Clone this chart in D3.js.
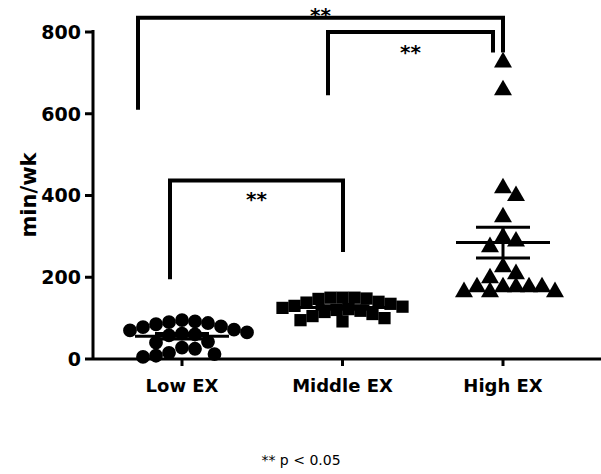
<!DOCTYPE html>
<html><head><meta charset="utf-8">
<script src="https://cdn.jsdelivr.net/npm/d3@7"></script>
<style>body{margin:0;background:#fff}text{font-family:"DejaVu Sans",Verdana,sans-serif;font-weight:bold}</style>
</head><body><svg id="chart" width="601" height="474"></svg>
<script>
var groups = ["Low EX", "Middle EX", "High EX"];
var lowEx = [92, 88, 80, 72, 65, 60, 58, 62, 70, 78, 85, 90, 95, 40, 25, 12, 5, 8, 15, 28, 42];
var middleEx = [150, 148, 150, 147, 150, 140, 138, 135, 130, 128, 125, 122, 120, 118, 115, 110, 105, 100, 95, 92];
var highEx = [726, 658, 399, 418, 347, 288, 298, 274, 225, 208, 198, 176, 176, 176, 176, 176, 164, 164, 164];
var yTicks = [0, 200, 400, 600, 800];
// brackets: from group, to group, top value, left drop value, right drop value
var brackets = [
  {from: 0, to: 1, top: 437, left: 195, right: 262},
  {from: 1, to: 2, top: 800, left: 645, right: 750},
  {from: 0, to: 2, top: 835, left: 610, right: 760}
];

var svg = d3.select("#chart");
var y = d3.scaleLinear().domain([0, 800]).range([359, 32]);
var x = d3.scalePoint().domain(groups).range([182, 503]);

// axes
svg.append("line").attr("x1", 93).attr("x2", 601).attr("y1", 359).attr("y2", 359).attr("stroke", "#000").attr("stroke-width", 3);
svg.append("line").attr("x1", 93).attr("x2", 93).attr("y1", 359).attr("y2", 30).attr("stroke", "#000").attr("stroke-width", 3);
yTicks.forEach(function(t) {
  svg.append("line").attr("x1", 85).attr("x2", 93).attr("y1", y(t)).attr("y2", y(t)).attr("stroke", "#000").attr("stroke-width", 3);
  svg.append("text").attr("x", 81).attr("y", y(t)).attr("dy", "0.36em").attr("text-anchor", "end").attr("font-size", 19).text(t);
});
groups.forEach(function(g) {
  svg.append("line").attr("x1", x(g)).attr("x2", x(g)).attr("y1", 359).attr("y2", 366).attr("stroke", "#000").attr("stroke-width", 3);
  svg.append("text").attr("x", x(g)).attr("y", 392).attr("text-anchor", "middle").attr("font-size", 18).text(g);
});
svg.append("text").attr("transform", "translate(36,195) rotate(-90)").attr("text-anchor", "middle").attr("font-size", 21).text("min/wk");

// simple beeswarm: each point placed at the smallest side offset that does not overlap earlier ones
function swarm(vals, d) {
  var placed = [];
  vals.slice().sort(function(a, b) { return b - a; }).forEach(function(v) {
    var py = y(v);
    for (var k = 0; ; k++) {
      var off = (k % 2 ? 1 : -1) * Math.ceil(k / 2) * d / 2;
      var ok = placed.every(function(p) { return Math.hypot(p.dx - off, p.py - py) >= d; });
      if (ok) { placed.push({v: v, py: py, dx: off}); break; }
    }
  });
  return placed;
}
var series = [lowEx, middleEx, highEx];
var sym = [d3.symbolCircle, d3.symbolSquare, d3.symbolTriangle];
var diam = [13, 12, 13];
series.forEach(function(vals, gi) {
  var cx = x(groups[gi]);
  var pts = swarm(vals, diam[gi]);
  svg.append("g").selectAll("path").data(pts).enter().append("path")
    .attr("d", d3.symbol().type(sym[gi]).size(gi == 2 ? 140 : 150))
    .attr("transform", function(d) { return "translate(" + (cx + d.dx) + "," + d.py + ")"; })
    .attr("fill", "#000");
  var m = d3.mean(vals), se = d3.deviation(vals) / Math.sqrt(vals.length);
  svg.append("line").attr("x1", cx - 47).attr("x2", cx + 47).attr("y1", y(m)).attr("y2", y(m)).attr("stroke", "#000").attr("stroke-width", 3);
  [m - se, m + se].forEach(function(v) {
    svg.append("line").attr("x1", cx - 27).attr("x2", cx + 27).attr("y1", y(v)).attr("y2", y(v)).attr("stroke", "#000").attr("stroke-width", 3);
  });
  svg.append("line").attr("x1", cx).attr("x2", cx).attr("y1", y(m - se)).attr("y2", y(m + se)).attr("stroke", "#000").attr("stroke-width", 3);
});

// significance brackets
var bx = [[170, 343], [328, 493], [138, 503]];
var labelDy = [26, 27, 4];
brackets.forEach(function(b, i) {
  var x1 = bx[i][0], x2 = bx[i][1];
  svg.append("path").attr("fill", "none").attr("stroke", "#000").attr("stroke-width", 4)
    .attr("d", "M" + x1 + "," + y(b.left) + "V" + y(b.top) + "H" + x2 + "V" + y(b.right));
  svg.append("text").attr("x", (x1 + x2) / 2).attr("y", y(b.top) + labelDy[i]).attr("text-anchor", "middle").attr("font-size", 20).text("**");
});
svg.append("path").attr("fill", "none").attr("stroke", "#000").attr("stroke-width", 4).attr("d", "M503," + y(800) + "V" + y(750));
svg.append("text").attr("x", 301).attr("y", 465).attr("text-anchor", "middle").attr("font-size", 14).style("font-weight", "normal").text("** p < 0.05");
</script></body></html>
